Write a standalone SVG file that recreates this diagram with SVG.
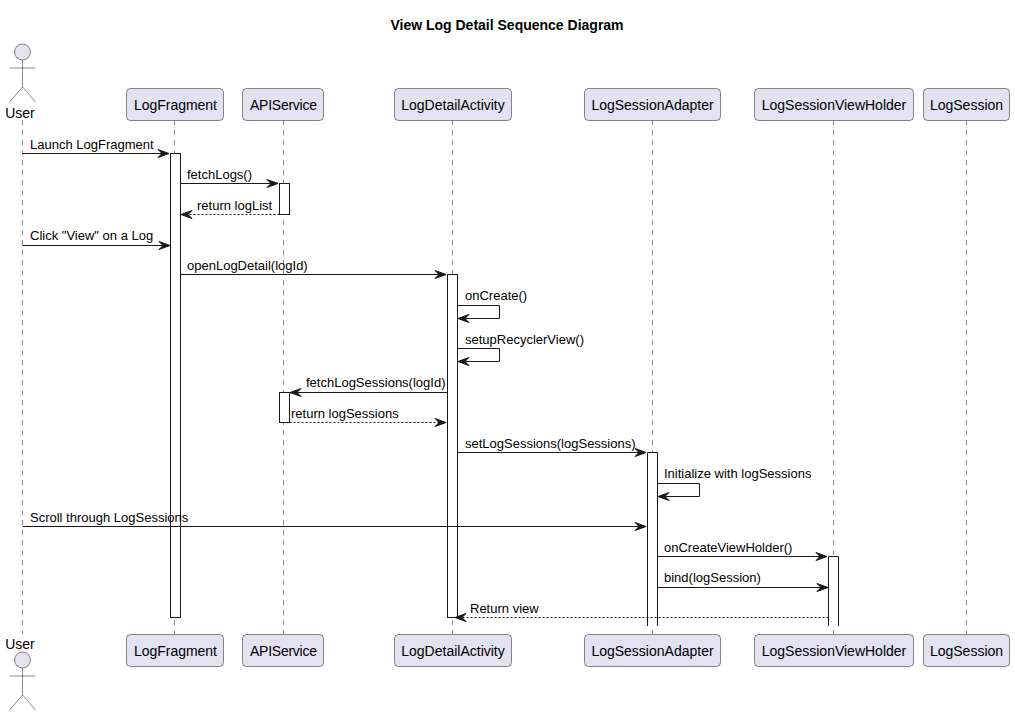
<svg xmlns="http://www.w3.org/2000/svg" width="1015" height="716" viewBox="0 0 1015 716">
<style>
text{font-family:"Liberation Sans",Arial,sans-serif;font-size:13px;fill:#000}
.t{font-size:14px;font-weight:bold}
.n{font-size:14px}
.box{fill:#E2E2F0;stroke:#181818;stroke-width:.5}
.life{stroke:#181818;stroke-width:.5;stroke-dasharray:5 5;fill:none}
.act{fill:#fff;stroke:#181818;stroke-width:1}
.m{stroke:#181818;stroke-width:1;fill:none}
.d{stroke-dasharray:2 2}
.ah{fill:#181818;stroke:#181818;stroke-width:1}
.actor{fill:#E2E2F0;stroke:#181818;stroke-width:.5}
.limb{fill:none;stroke:#181818;stroke-width:.5}
</style>
<defs>
<g id="actor">
<circle class="actor" cx="22.5" cy="8" r="8"/>
<path class="limb" d="M22.5 16V43M9.5 24H35.5M22.5 43L9.5 58M22.5 43L35.5 58"/>
</g>
<polygon id="ar" class="ah" points="0,0 -11,-4 -7,0 -11,4"/>
<polygon id="al" class="ah" points="0,0 11,-4 7,0 11,4"/>
</defs>
<text class="t" x="507" y="30" text-anchor="middle">View Log Detail Sequence Diagram</text>
<g id="lifelines">
<path class="life" d="M22.5 120V634M174.500 120V634M283.500 120V634M452.500 120V634M652.500 120V634M833.500 120V634M966.500 120V634"/>
</g>
<g id="activations">
<rect class="act" x="170.500" y="153.500" width="10" height="464"/>
<rect class="act" x="279.500" y="183.500" width="10" height="31"/>
<rect class="act" x="447.500" y="274.500" width="10" height="343"/>
<rect class="act" x="279.500" y="392.500" width="10" height="30"/>
<path class="act" d="M647.500 626V452.500H657.500V626"/>
<path class="act" d="M828.500 626V556.500H838.500V626"/>
</g>
<g id="connectors">
<path class="m" d="M22.500 153.500H168"/><use href="#ar" x="169" y="153.500"/>
<path class="m" d="M180.500 183.500H277"/><use href="#ar" x="278" y="183.500"/>
<path class="m d" d="M279.500 214.500H182"/><use href="#al" x="181" y="214.500"/>
<path class="m" d="M22.500 245.500H169"/><use href="#ar" x="170" y="245.500"/>
<path class="m" d="M180.500 274.500H445"/><use href="#ar" x="446" y="274.500"/>
<path class="m" d="M457.500 305.500H499.500V318.500H459"/><use href="#al" x="458" y="318.500"/>
<path class="m" d="M457.500 348.500H499.500V361.500H459"/><use href="#al" x="458" y="361.500"/>
<path class="m" d="M447.500 392.500H291"/><use href="#al" x="290" y="392.500"/>
<path class="m d" d="M289.500 422.500H445"/><use href="#ar" x="446" y="422.500"/>
<path class="m" d="M457.500 452.500H645"/><use href="#ar" x="646" y="452.500"/>
<path class="m" d="M657.500 483.500H699.500V496.500H659"/><use href="#al" x="658" y="496.500"/>
<path class="m" d="M22.500 526.500H645"/><use href="#ar" x="646" y="526.500"/>
<path class="m" d="M657.500 556.500H826"/><use href="#ar" x="827" y="556.500"/>
<path class="m" d="M657.500 587.500H827"/><use href="#ar" x="828" y="587.500"/>
<path class="m d" d="M828.500 617.500H456"/><use href="#al" x="455" y="617.500"/>
</g>
<g id="labels">
<text x="30" y="149">Launch LogFragment</text>
<text x="187" y="179">fetchLogs()</text>
<text x="197" y="210">return logList</text>
<text x="30" y="240">Click "View" on a Log</text>
<text x="187" y="270">openLogDetail(logId)</text>
<text x="465" y="300">onCreate()</text>
<text x="465" y="344">setupRecyclerView()</text>
<text x="306" y="387">fetchLogSessions(logId)</text>
<text x="291" y="418">return logSessions</text>
<text x="465" y="448">setLogSessions(logSessions)</text>
<text x="664" y="478">Initialize with logSessions</text>
<text x="30" y="522">Scroll through LogSessions</text>
<text x="664" y="552">onCreateViewHolder()</text>
<text x="664" y="582">bind(logSession)</text>
<text x="470" y="613">Return view</text>
</g>
<g id="user-top"><use href="#actor" y="44"/><text class="n" x="20" y="118" text-anchor="middle">User</text></g>
<g id="user-bottom"><use href="#actor" y="652"/><text class="n" x="20" y="649" text-anchor="middle">User</text></g>
<g id="logfragment-top"><rect class="box" x="126.500" y="88.500" width="97" height="32" rx="4"/><text class="n" x="134" y="110" textLength="83">LogFragment</text></g>
<g id="apiservice-top"><rect class="box" x="242.500" y="88.500" width="81" height="32" rx="4"/><text class="n" x="250" y="110" textLength="67">APIService</text></g>
<g id="logdetailactivity-top"><rect class="box" x="394.500" y="88.500" width="117" height="32" rx="4"/><text class="n" x="453" y="110" text-anchor="middle">LogDetailActivity</text></g>
<g id="logsessionadapter-top"><rect class="box" x="584.500" y="88.500" width="136" height="32" rx="4"/><text class="n" x="652.500" y="110" text-anchor="middle">LogSessionAdapter</text></g>
<g id="logsessionviewholder-top"><rect class="box" x="754.500" y="88.500" width="159" height="32" rx="4"/><text class="n" x="834" y="110" text-anchor="middle">LogSessionViewHolder</text></g>
<g id="logsession-top"><rect class="box" x="923.500" y="88.500" width="86" height="32" rx="4"/><text class="n" x="966.500" y="110" text-anchor="middle">LogSession</text></g>
<g id="logfragment-bottom"><rect class="box" x="126.500" y="634.500" width="97" height="32" rx="4"/><text class="n" x="134" y="656" textLength="83">LogFragment</text></g>
<g id="apiservice-bottom"><rect class="box" x="242.500" y="634.500" width="81" height="32" rx="4"/><text class="n" x="250" y="656" textLength="67">APIService</text></g>
<g id="logdetailactivity-bottom"><rect class="box" x="394.500" y="634.500" width="117" height="32" rx="4"/><text class="n" x="453" y="656" text-anchor="middle">LogDetailActivity</text></g>
<g id="logsessionadapter-bottom"><rect class="box" x="584.500" y="634.500" width="136" height="32" rx="4"/><text class="n" x="652.500" y="656" text-anchor="middle">LogSessionAdapter</text></g>
<g id="logsessionviewholder-bottom"><rect class="box" x="754.500" y="634.500" width="159" height="32" rx="4"/><text class="n" x="834" y="656" text-anchor="middle">LogSessionViewHolder</text></g>
<g id="logsession-bottom"><rect class="box" x="923.500" y="634.500" width="86" height="32" rx="4"/><text class="n" x="966.500" y="656" text-anchor="middle">LogSession</text></g>
</svg>
